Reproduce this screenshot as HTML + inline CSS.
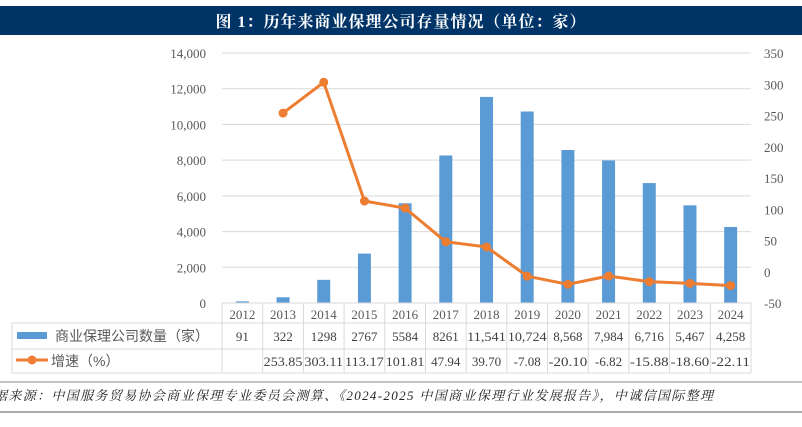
<!DOCTYPE html>
<html><head><meta charset="utf-8"><style>
body{margin:0;background:#fff;width:802px;height:422px;overflow:hidden;font-family:"Liberation Serif","Noto Serif CJK SC",serif}
</style></head><body>
<svg id="c" width="802" height="422" xmlns="http://www.w3.org/2000/svg">
<rect x="0" y="6" width="802" height="29" fill="#003366"/>
<text x="401" y="27" text-anchor="middle" fill="#fff" font-size="16" font-weight="bold" letter-spacing="1" font-family="Liberation Serif,Noto Serif CJK SC,serif">图 1：历年来商业保理公司存量情况（单位：家）</text>
<g id="g"></g>
<line x1="0" y1="382" x2="802" y2="382" stroke="#888" stroke-width="1"/>
<text x="-6" y="400" font-size="13" font-style="italic" fill="#222" textLength="719" lengthAdjust="spacing" font-family="Liberation Serif,Noto Serif CJK SC,serif">据来源：中国服务贸易协会商业保理专业委员会测算、《2024-2025 中国商业保理行业发展报告》，中诚信国际整理</text>
<line x1="0" y1="412" x2="802" y2="412" stroke="#aaa" stroke-width="2"/>
</svg>
<script>
const years=["2012","2013","2014","2015","2016","2017","2018","2019","2020","2021","2022","2023","2024"];
const counts=[91,322,1298,2767,5584,8261,11541,10724,8568,7984,6716,5467,4258];
const countLabels=["91","322","1298","2767","5584","8261","11,541","10,724","8,568","7,984","6,716","5,467","4,258"];
const growth=[null,253.85,303.11,113.17,101.81,47.94,39.70,-7.08,-20.10,-6.82,-15.88,-18.60,-22.11];
const growthLabels=["","253.85","303.11","113.17","101.81","47.94","39.70","-7.08","-20.10","-6.82","-15.88","-18.60","-22.11"];
const leftTicks=[0,2000,4000,6000,8000,10000,12000,14000];
const leftTickLabels=["0","2,000","4,000","6,000","8,000","10,000","12,000","14,000"];
const rightTicks=[-50,0,50,100,150,200,250,300,350];

const NS="http://www.w3.org/2000/svg",g=document.getElementById('g');
const X0=222,X1=751,Y0=303,Y1=53,cw=(X1-X0)/years.length;
const yl=v=>Y0-(v/14000)*(Y0-Y1);
const yr=v=>Y0-((v+50)/400)*(Y0-Y1);
const xc=i=>X0+cw*(i+0.5);
function el(t,a,txt){const e=document.createElementNS(NS,t);for(const k in a)e.setAttribute(k,a[k]);if(txt!=null)e.textContent=txt;g.appendChild(e);return e;}
leftTicks.forEach((v,i)=>{
 if(v>0){const l=el('line',{x1:X0,x2:X1,y1:yl(v),y2:yl(v),stroke:'#d9d9d9','stroke-width':1});
 
 }
 const t=el('text',{x:206,y:yl(v)+5,'text-anchor':'end','font-size':13,fill:'#595959'},leftTickLabels[i]);
 
 
});
rightTicks.forEach(v=>{
 const t=el('text',{x:764,y:yr(v)+5,'font-size':13,fill:'#595959'},String(v));
 
 
});
counts.forEach((v,i)=>{
 const b=el('rect',{x:xc(i)-6.5,y:yl(v),width:13,height:Y0-yl(v),fill:'#5b9bd5'});
 
 
});
let pts=[];growth.forEach((v,i)=>{if(v!=null)pts.push(xc(i)+','+yr(v));});
const pl=el('polyline',{points:pts.join(' '),fill:'none',stroke:'#ed7d31','stroke-width':3,'stroke-linejoin':'round'});


growth.forEach((v,i)=>{if(v==null)return;
 const c=el('circle',{cx:xc(i),cy:yr(v),r:4.5,fill:'#ed7d31'});
 
 
});
const tc='#d9d9d9';
el('line',{x1:X0,x2:X1,y1:303,y2:303,stroke:tc});
el('line',{x1:12,x2:X1,y1:323,y2:323,stroke:tc});
el('line',{x1:12,x2:X1,y1:349,y2:349,stroke:tc});
el('line',{x1:12,x2:X1,y1:373,y2:373,stroke:tc});
el('line',{x1:12,x2:12,y1:323,y2:373,stroke:tc});
for(let i=0;i<=years.length;i++)el('line',{x1:X0+cw*i,x2:X0+cw*i,y1:303,y2:373,stroke:tc});
years.forEach((y,i)=>{
 const t=el('text',{x:xc(i),y:319,'text-anchor':'middle','font-size':13,fill:'#595959'},y);
 
 
 const a=el('text',{x:xc(i),y:341,'text-anchor':'middle','font-size':13,fill:'#404040'},countLabels[i]);
 if(countLabels[i].length>5){a.setAttribute('textLength',cw-2);a.setAttribute('lengthAdjust','spacingAndGlyphs');}
 
 
 const b=el('text',{x:xc(i),y:366,'text-anchor':'middle','font-size':13,fill:'#404040'},growthLabels[i]);
 if(growthLabels[i].length>5){b.setAttribute('textLength',cw-2);b.setAttribute('lengthAdjust','spacingAndGlyphs');}
 
 
});
const k1=el('rect',{x:17,y:332,width:30,height:7,fill:'#5b9bd5'});


const l1=el('text',{x:55,y:341,'font-size':14,fill:'#595959','font-family':'Liberation Sans,Noto Sans CJK SC,sans-serif'},'商业保理公司数量（家）');


el('line',{x1:16,x2:48,y1:360,y2:360,stroke:'#ed7d31','stroke-width':3});
const k2=el('circle',{cx:32,cy:360,r:4.5,fill:'#ed7d31'});


const l2=el('text',{x:51,y:366,'font-size':14,fill:'#595959','font-family':'Liberation Sans,Noto Sans CJK SC,sans-serif'},'增速（%）');


</script>
</body></html>
